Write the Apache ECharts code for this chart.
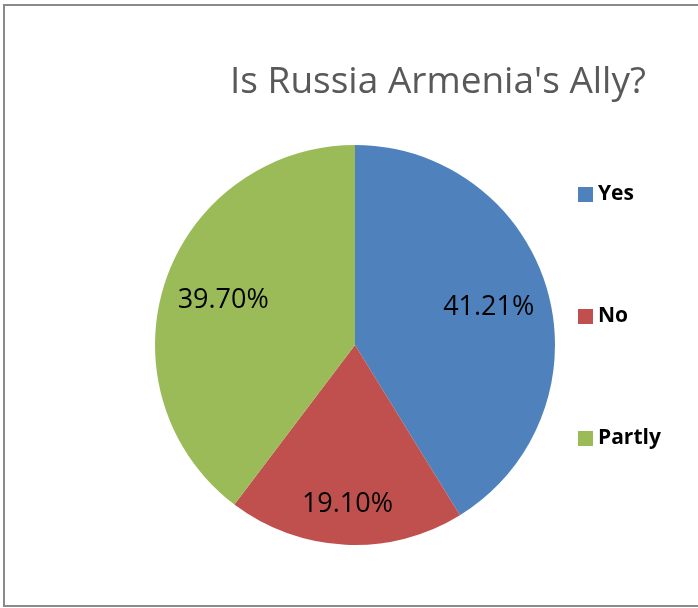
<!DOCTYPE html>
<html>
<head>
<meta charset="utf-8">
<script src="https://cdn.jsdelivr.net/npm/echarts@6/dist/echarts.min.js"></script>
<style>
html,body{margin:0;padding:0;background:#fff;}
#chart{width:698px;height:608px;}
</style>
</head>
<body>
<div id="chart"></div>
<script>
const titleText = "Is Russia Armenia's Ally?";
const categories = ["Yes", "No", "Partly"];
const values = [41.21, 19.10, 39.70];
const colors = ["#4F81BD", "#C0504D", "#9BBB59"];

const data = categories.map((c, i) => ({ name: c, value: values[i], itemStyle: { color: colors[i] } }));

function labelSeries(innerR, showFor) {
  return {
    type: 'pie',
    center: [355, 345],
    radius: [innerR, 200],
    startAngle: 90,
    clockwise: true,
    silent: true,
    data: categories.map((c, i) => ({ name: c, value: values[i], label: { show: showFor.includes(c) } })),
    itemStyle: { color: 'rgba(0,0,0,0)' },
    label: {
      position: 'inside',
      formatter: p => p.value.toFixed(2) + '%',
      fontFamily: 'Open Sans',
      fontSize: 27,
      color: '#000'
    },
    labelLine: { show: false },
    emphasis: { disabled: true }
  };
}

const chart = echarts.init(document.getElementById('chart'), null, { renderer: 'canvas' });
chart.setOption({
  animation: false,
  backgroundColor: '#ffffff',
  graphic: [{
    type: 'rect',
    shape: { x: 4, y: 5, width: 740, height: 601 },
    style: { fill: 'none', stroke: '#8a8a8a', lineWidth: 2 },
    silent: true,
    z: 0
  }],
  title: {
    text: titleText,
    left: 225,
    top: 59,
    textStyle: { fontFamily: 'Open Sans', fontSize: 37, fontWeight: 'normal', color: '#595959' }
  },
  legend: {
    orient: 'vertical',
    left: 573,
    top: 179,
    itemWidth: 15,
    itemHeight: 15,
    itemGap: 101,
    icon: 'rect',
    data: categories,
    textStyle: { fontFamily: 'Open Sans', fontSize: 21, fontWeight: 'bold', color: '#000' }
  },
  series: [
    {
      type: 'pie',
      center: [355, 345],
      radius: [0, 200],
      startAngle: 90,
      clockwise: true,
      data: data,
      label: { show: false },
      labelLine: { show: false },
      emphasis: { disabled: true }
    },
    labelSeries(72, ["Yes", "Partly"]),
    labelSeries(112, ["No"])
  ]
});
</script>
</body>
</html>
